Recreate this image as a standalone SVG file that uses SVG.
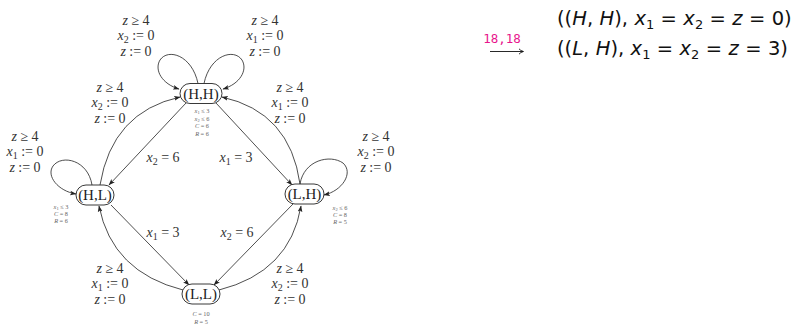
<svg xmlns="http://www.w3.org/2000/svg" width="801" height="329" viewBox="0 0 801 329">
<style>
.bg{fill:#fff}
.node rect{fill:#fff;stroke:#222;stroke-width:0.9}
.nt{font-family:"Liberation Serif",serif;font-size:15px;fill:#222;text-anchor:middle}
.lbl{font-family:"Liberation Serif",serif;font-size:14px;fill:#333;text-anchor:middle}
.sm{font-family:"Liberation Serif",serif;font-size:6.3px;fill:#666;text-anchor:middle}
.i{font-style:italic}
.sub{font-size:10px}
.ssub{font-size:4.5px}
.e{fill:none;stroke:#222;stroke-width:0.8;marker-end:url(#ah)}
.m{font-family:"DejaVu Sans",sans-serif;font-size:19.5px;fill:#111}
.msub{font-size:13px}
.tt{font-family:"DejaVu Sans Mono",monospace;font-size:12.5px;fill:#e8158c;text-anchor:middle}
</style>
<defs>
<marker id="ah" markerWidth="7" markerHeight="6" refX="6" refY="3" orient="auto" markerUnits="userSpaceOnUse">
<path d="M0,0.6 L6.5,3 L0,5.4 L1.5,3 z" fill="#222"/>
</marker>
</defs>
<rect class="bg" x="0" y="0" width="801" height="329"/>

<g id="connectors">
<path class="e" d="M198,83.5 C192,55 168,48 160,60 C154,70 162,84 179,89"/>
<path class="e" d="M204,83.5 C210,55 234,48 242,60 C248,70 240,84 223,89"/>
<path class="e" d="M92,185 C88,160 62,154 53,166 C46,176 58,191 76,194"/>
<path class="e" d="M300,184 C304,160 330,154 343,163 C354,173 342,191 324,195"/>
<path class="e" d="M186,103 L109,185"/>
<path class="e" d="M216,103 L292,185"/>
<path class="e" d="M111,205 L189,285"/>
<path class="e" d="M293,204 L214,285"/>
<path class="e" d="M100,185 Q112,112 180,97"/>
<path class="e" d="M300,184 Q290,112 222,97"/>
<path class="e" d="M183,290 Q112,272 99,206"/>
<path class="e" d="M219,290 Q290,272 301,206"/>
</g>

<g id="node-HH" class="node">
<rect x="180" y="83.5" width="42" height="20" rx="10"/>
<text class="nt" x="201" y="98.5">(H,H)</text>
<text class="sm" x="202" y="113"><tspan class="i">x</tspan><tspan class="ssub" dy="1">1</tspan><tspan dy="-1"> ≤ 3</tspan></text>
<text class="sm" x="202" y="120.5"><tspan class="i">x</tspan><tspan class="ssub" dy="1">2</tspan><tspan dy="-1"> ≤ 6</tspan></text>
<text class="sm" x="202" y="128"><tspan class="i">C</tspan> = 6</text>
<text class="sm" x="202" y="135.5"><tspan class="i">R</tspan> = 6</text>
</g>

<g id="node-HL" class="node">
<rect x="76" y="185" width="38" height="20" rx="10"/>
<text class="nt" x="95" y="200">(H,L)</text>
<text class="sm" x="61" y="208.5"><tspan class="i">x</tspan><tspan class="ssub" dy="1">1</tspan><tspan dy="-1"> ≤ 3</tspan></text>
<text class="sm" x="61" y="215.5"><tspan class="i">C</tspan> = 8</text>
<text class="sm" x="61" y="222.5"><tspan class="i">R</tspan> = 6</text>
</g>

<g id="node-LH" class="node">
<rect x="285" y="184" width="39" height="20" rx="10"/>
<text class="nt" x="304.5" y="199">(L,H)</text>
<text class="sm" x="340" y="209.5"><tspan class="i">x</tspan><tspan class="ssub" dy="1">2</tspan><tspan dy="-1"> ≤ 6</tspan></text>
<text class="sm" x="340" y="216.5"><tspan class="i">C</tspan> = 8</text>
<text class="sm" x="340" y="223.5"><tspan class="i">R</tspan> = 5</text>
</g>

<g id="node-LL" class="node">
<rect x="182" y="284" width="38" height="20" rx="10"/>
<text class="nt" x="201" y="299">(L,L)</text>
<text class="sm" x="201" y="315.5"><tspan class="i">C</tspan> = 10</text>
<text class="sm" x="201" y="323.5"><tspan class="i">R</tspan> = 5</text>
</g>

<g id="edge-labels">
<g id="lbl-A">
<text class="lbl" x="136" y="24.5"><tspan class="i">z</tspan> ≥ 4</text>
<text class="lbl" x="136" y="40"><tspan class="i">x</tspan><tspan class="sub" dy="3">2</tspan><tspan dy="-3"> := 0</tspan></text>
<text class="lbl" x="136" y="56"><tspan class="i">z</tspan> := 0</text>
</g>
<g id="lbl-B">
<text class="lbl" x="265" y="24.5"><tspan class="i">z</tspan> ≥ 4</text>
<text class="lbl" x="265" y="40"><tspan class="i">x</tspan><tspan class="sub" dy="3">1</tspan><tspan dy="-3"> := 0</tspan></text>
<text class="lbl" x="265" y="56"><tspan class="i">z</tspan> := 0</text>
</g>
<g id="lbl-C">
<text class="lbl" x="110" y="91.5"><tspan class="i">z</tspan> ≥ 4</text>
<text class="lbl" x="110" y="107"><tspan class="i">x</tspan><tspan class="sub" dy="3">2</tspan><tspan dy="-3"> := 0</tspan></text>
<text class="lbl" x="110" y="123"><tspan class="i">z</tspan> := 0</text>
</g>
<g id="lbl-D">
<text class="lbl" x="290" y="91.5"><tspan class="i">z</tspan> ≥ 4</text>
<text class="lbl" x="290" y="107"><tspan class="i">x</tspan><tspan class="sub" dy="3">1</tspan><tspan dy="-3"> := 0</tspan></text>
<text class="lbl" x="290" y="123"><tspan class="i">z</tspan> := 0</text>
</g>
<g id="lbl-E">
<text class="lbl" x="25" y="140.5"><tspan class="i">z</tspan> ≥ 4</text>
<text class="lbl" x="25" y="156"><tspan class="i">x</tspan><tspan class="sub" dy="3">1</tspan><tspan dy="-3"> := 0</tspan></text>
<text class="lbl" x="25" y="172"><tspan class="i">z</tspan> := 0</text>
</g>
<g id="lbl-F">
<text class="lbl" x="376" y="140.5"><tspan class="i">z</tspan> ≥ 4</text>
<text class="lbl" x="376" y="156"><tspan class="i">x</tspan><tspan class="sub" dy="3">2</tspan><tspan dy="-3"> := 0</tspan></text>
<text class="lbl" x="376" y="172"><tspan class="i">z</tspan> := 0</text>
</g>
<g id="lbl-G">
<text class="lbl" x="110" y="272.5"><tspan class="i">z</tspan> ≥ 4</text>
<text class="lbl" x="110" y="288"><tspan class="i">x</tspan><tspan class="sub" dy="3">1</tspan><tspan dy="-3"> := 0</tspan></text>
<text class="lbl" x="110" y="303.5"><tspan class="i">z</tspan> := 0</text>
</g>
<g id="lbl-H">
<text class="lbl" x="290" y="272.5"><tspan class="i">z</tspan> ≥ 4</text>
<text class="lbl" x="290" y="288"><tspan class="i">x</tspan><tspan class="sub" dy="3">2</tspan><tspan dy="-3"> := 0</tspan></text>
<text class="lbl" x="290" y="303.5"><tspan class="i">z</tspan> := 0</text>
</g>
<text class="lbl" x="163" y="161.5"><tspan class="i">x</tspan><tspan class="sub" dy="3">2</tspan><tspan dy="-3"> = 6</tspan></text>
<text class="lbl" x="236" y="161.5"><tspan class="i">x</tspan><tspan class="sub" dy="3">1</tspan><tspan dy="-3"> = 3</tspan></text>
<text class="lbl" x="163" y="236.5"><tspan class="i">x</tspan><tspan class="sub" dy="3">1</tspan><tspan dy="-3"> = 3</tspan></text>
<text class="lbl" x="237" y="236.5"><tspan class="i">x</tspan><tspan class="sub" dy="3">2</tspan><tspan dy="-3"> = 6</tspan></text>
</g>

<g id="transition">
<text class="tt" x="502" y="43">18,18</text>
<path d="M490,51.5 L523,51.5 M519,48.8 Q520.5,50.8 523.5,51.5 Q520.5,52.2 519,54.2" fill="none" stroke="#111" stroke-width="0.9"/>
<text class="m" x="557" y="25" word-spacing="0.2">((<tspan class="i">H</tspan>, <tspan class="i">H</tspan>), <tspan class="i">x</tspan><tspan class="msub" dy="4">1</tspan><tspan dy="-4"> = </tspan><tspan class="i">x</tspan><tspan class="msub" dy="4">2</tspan><tspan dy="-4"> = </tspan><tspan class="i">z</tspan> = 0)</text>
<text class="m" x="557" y="55" word-spacing="0.2">((<tspan class="i">L</tspan>, <tspan class="i">H</tspan>), <tspan class="i">x</tspan><tspan class="msub" dy="4">1</tspan><tspan dy="-4"> = </tspan><tspan class="i">x</tspan><tspan class="msub" dy="4">2</tspan><tspan dy="-4"> = </tspan><tspan class="i">z</tspan> = 3)</text>
</g>
</svg>
